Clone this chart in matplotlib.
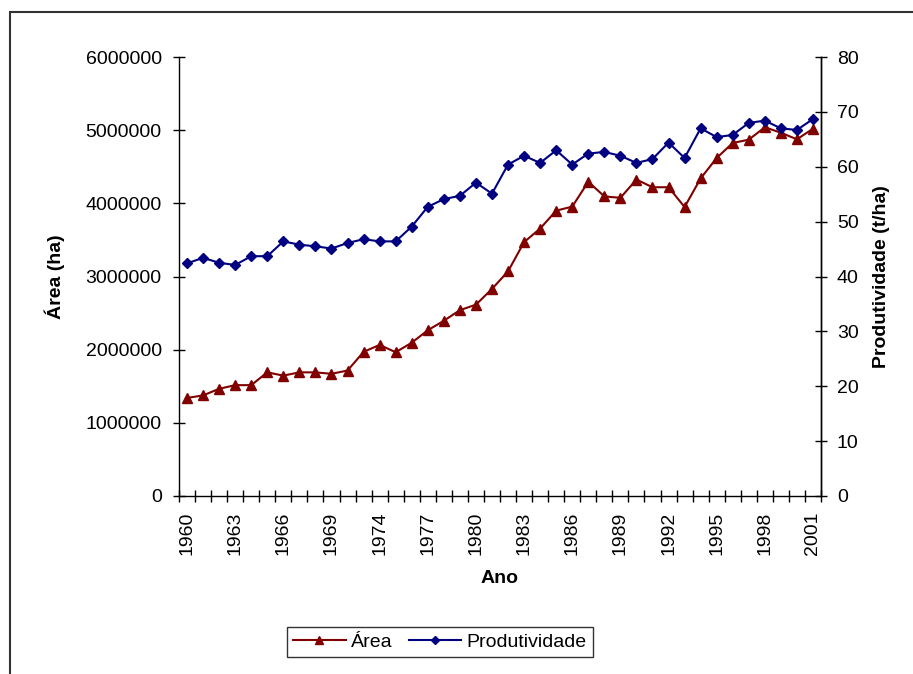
import matplotlib
matplotlib.use('Agg')
import matplotlib.pyplot as plt
from matplotlib.patches import Rectangle

plt.rcParams['font.family'] = ['Liberation Sans', 'DejaVu Sans']

# anos (categorias) - so dois anos entre 1970 e 1973 aparecem na serie
anos = [1960, 1961, 1962, 1963, 1964, 1965, 1966, 1967, 1968, 1969,
        1971, 1972,
        1974, 1975, 1976, 1977, 1978, 1979, 1980, 1981, 1982, 1983, 1984,
        1985, 1986, 1987, 1988, 1989, 1990, 1991, 1992, 1993, 1994, 1995,
        1996, 1997, 1998, 1999, 2000, 2001]

area = [1340000, 1375000, 1465000, 1515000, 1515000, 1690000, 1645000,
        1690000, 1690000, 1670000, 1715000, 1970000, 2065000, 1965000,
        2095000, 2265000, 2395000, 2540000, 2615000, 2830000, 3070000,
        3470000, 3655000, 3900000, 3955000, 4295000, 4095000, 4075000,
        4325000, 4220000, 4220000, 3950000, 4340000, 4620000, 4825000,
        4870000, 5040000, 4965000, 4875000, 5020000]

produtividade = [42.4, 43.4, 42.5, 42.1, 43.7, 43.7, 46.4, 45.8, 45.5, 45.1,
                 46.1, 46.8, 46.4, 46.4, 49.1, 52.7, 54.1, 54.7, 57.1, 55.1,
                 60.4, 62.0, 60.7, 63.0, 60.4, 62.4, 62.7, 62.0, 60.7, 61.4,
                 64.4, 61.6, 67.0, 65.4, 65.8, 68.0, 68.4, 67.0, 66.7, 68.7]

area_ticks = [0, 1000000, 2000000, 3000000, 4000000, 5000000, 6000000]
prod_ticks = [0, 10, 20, 30, 40, 50, 60, 70, 80]

vermelho = '#800000'
azul = '#000080'
fs = 14

fig = plt.figure(figsize=(9.13, 6.74), dpi=100)
ax = fig.add_axes([179/913, 1 - 496/674, 642/913, 439/674])
ax2 = ax.twinx()

x = list(range(len(anos)))
l1, = ax.plot(x, area, color=vermelho, lw=1.5, marker='^', ms=7.5,
              label='Área', zorder=3)
l2, = ax2.plot(x, produtividade, color=azul, lw=1.5, marker='D', ms=5.5,
               label='Produtividade', zorder=3)

ax.set_xlim(-0.5, len(anos) - 0.5)
ax.set_ylim(0, 6000000)
ax2.set_ylim(0, 80)

ax.set_yticks(area_ticks)
ax.set_yticklabels([str(v) for v in area_ticks])
ax2.set_yticks(prod_ticks)

# rotulos a cada 3 categorias, tracos nas fronteiras
ax.set_xticks(x[::3])
ax.set_xticklabels([str(anos[i]) for i in x[::3]], rotation=90)
ax.set_xticks([i - 0.5 for i in range(len(anos) + 1)], minor=True)
ax.tick_params(axis='x', which='major', length=0, pad=11, labelsize=fs)
ax.tick_params(axis='x', which='minor', direction='inout', length=9,
               width=1)
ax.tick_params(axis='y', direction='inout', length=9, width=1, pad=8,
               labelsize=fs)
ax2.tick_params(axis='y', direction='inout', length=9, width=1, pad=7,
                labelsize=fs)

for a in (ax, ax2):
    a.spines['top'].set_visible(False)
    for s in a.spines.values():
        s.set_linewidth(1)
ax2.spines['left'].set_visible(False)
ax2.spines['bottom'].set_visible(False)

ax.set_xlabel('Ano', fontsize=fs, fontweight='bold')
ax.xaxis.set_label_coords(0.5, -0.187)
ax.xaxis.label.set_va('center')
ax.set_ylabel('Área (ha)', fontsize=fs, fontweight='bold')
ax.yaxis.set_label_coords(-0.193, 0.5)
ax.yaxis.label.set_va('center')
ax2.set_ylabel('Produtividade (t/ha)', fontsize=fs, fontweight='bold')
ax2.yaxis.set_label_coords(1.095, 0.5)
ax2.yaxis.label.set_va('center')

leg = fig.legend(handles=[l1, l2], loc='center',
                 bbox_to_anchor=(440/913, 1 - 642/674), ncol=2,
                 fontsize=fs, frameon=True, fancybox=False, shadow=False,
                 handlelength=2.7, handletextpad=0.3, columnspacing=0.8,
                 borderpad=0.3, numpoints=1, markerscale=0.75)
leg.get_frame().set_edgecolor('black')
leg.get_frame().set_linewidth(1)

# moldura externa do grafico (corta na direita e embaixo)
fig.patches.append(Rectangle((10/913, -0.1), 1.2, 1 - 12/674 + 0.1,
                             transform=fig.transFigure, fill=False,
                             edgecolor='#333333', lw=1.5))

fig.savefig('out.png', dpi=100)
